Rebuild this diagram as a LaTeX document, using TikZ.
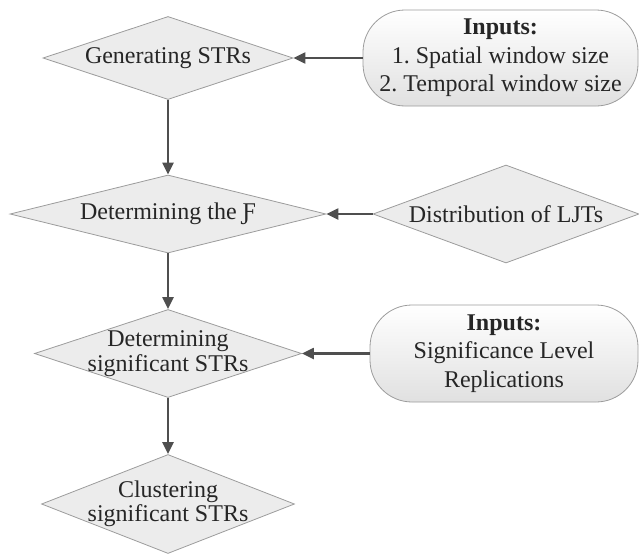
\documentclass[tikz,border=0pt]{standalone}
\usepackage{fontspec}
\setmainfont{Liberation Serif}
\usetikzlibrary{shapes.geometric,arrows.meta}
\definecolor{rautegrau}{HTML}{ECECEC}
\definecolor{randgrau}{HTML}{9C9C9C}
\definecolor{pfeilgrau}{HTML}{4F4F4F}
\definecolor{textgrau}{HTML}{262626}
\frenchspacing
\begin{document}
\begin{tikzpicture}[x=1pt,y=-1pt,
	raute/.style={diamond, draw=randgrau, line width=0.8pt, fill=rautegrau, inner sep=0pt},
	eingabe/.style={rectangle, rounded corners=42pt, draw=randgrau, line width=0.8pt,
		top color=white, bottom color=black!12, align=center, text=textgrau,
		font=\fontsize{24}{28.5}\selectfont},
	txt/.style={align=center, text=textgrau, font=\fontsize{24}{24.5}\selectfont},
	pfeil/.style={draw=pfeilgrau, line width=2.2pt, -{Triangle[length=12pt,width=11pt]}}]
	
	\useasboundingbox (0,0) rectangle (639,554);
	
	% Rauten links
	\node[raute, minimum width=250pt, minimum height=83pt] (gen) at (168,58) {};
	\node[txt] (gen-t) at (gen) {Generating STRs};
	
	\node[raute, minimum width=316pt, minimum height=78pt] (detF) at (168,214) {};
	\node[txt] (detF-t) at (detF) {Determining the Ƒ};
	
	\node[raute, minimum width=267pt, minimum height=88pt] (sig) at (168,353.5) {};
	\node[txt] (sig-t) at (sig) {Determining\\significant STRs};
	
	\node[raute, minimum width=253pt, minimum height=99pt] (clu) at (168,504) {};
	\node[txt] (clu-t) at (clu) {Clustering\\significant STRs};
	
	% Eingaben rechts
	\node[eingabe, minimum width=275pt, minimum height=96pt] (in1) at (500.5,58)
	{\textbf{Inputs:}\\1. Spatial window size\\2. Temporal window size};
	
	\node[raute, minimum width=266pt, minimum height=98pt] (ljt) at (506,214) {};
	\node[txt] (ljt-t) at (ljt) {Distribution of LJTs};
	
	\node[eingabe, minimum width=268pt, minimum height=97pt] (in2) at (504,353.5)
	{\textbf{Inputs:}\\Significance Level\\Replications};
	
	% Pfeile
	\draw[pfeil] (in1) -- (gen);
	\draw[pfeil] (ljt) -- (detF);
	\draw[pfeil] (in2) -- (sig);
	\draw[pfeil] (gen) -- (detF);
	\draw[pfeil] (detF) -- (sig);
	\draw[pfeil] (sig) -- (clu);
	
\end{tikzpicture}
\end{document}
